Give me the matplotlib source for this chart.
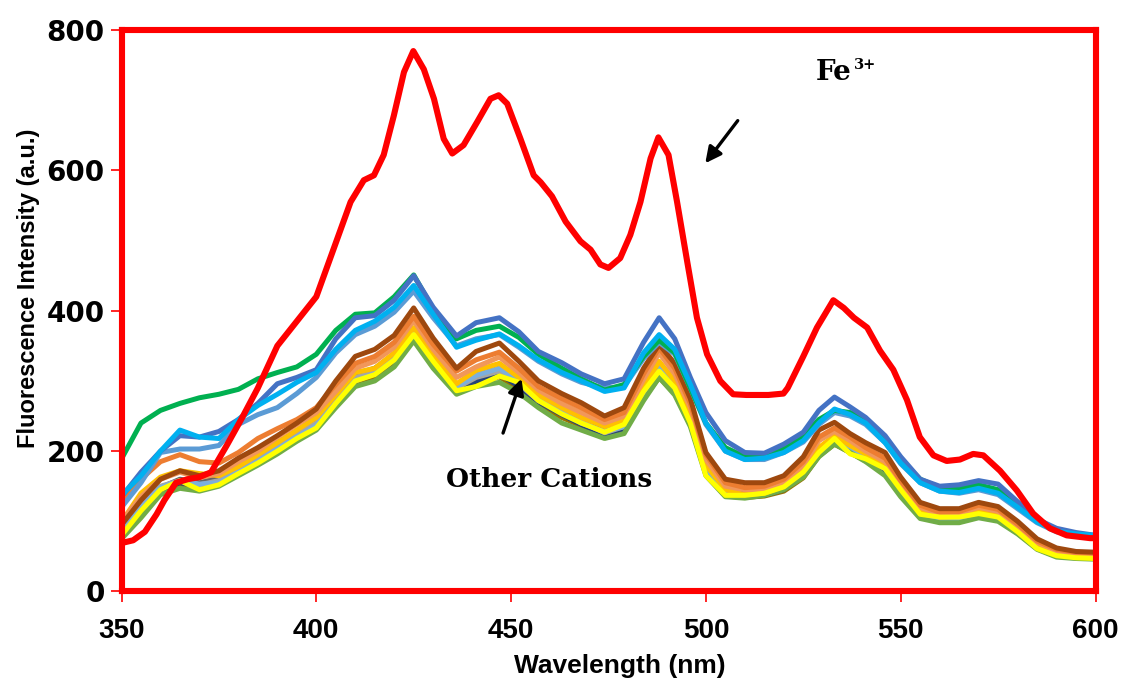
import matplotlib
matplotlib.use("Agg")
import matplotlib.pyplot as plt

# Emission wavelengths (nm) shared by the cation spectra
wavelength = [350, 355, 360, 365, 370, 375, 380, 385, 390, 395, 400, 405, 410, 415, 420,
              425, 430, 436, 441, 447, 452, 457, 463, 468, 474, 479, 484, 488, 492, 496,
              500, 505, 510, 515, 520, 525, 529, 533, 537, 541, 546, 550, 555, 560, 565,
              570, 575, 580, 585, 590, 595, 600]

# Fluorescence spectra of the probe with the other cations
cation_green = [189, 240, 258, 268, 276, 281, 288, 303, 312, 320, 338, 372, 395, 397, 420,
                451, 402, 360, 372, 378, 362, 338, 318, 303, 287, 295, 335, 358, 340, 290,
                240, 205, 192, 192, 205, 222, 245, 258, 255, 245, 215, 188, 160, 148, 147,
                152, 145, 125, 102, 88, 82, 78]
cation_blue = [135, 170, 200, 222, 220, 228, 245, 268, 296, 305, 316, 360, 390, 393, 415,
               450, 405, 364, 383, 390, 370, 342, 326, 310, 296, 303, 355, 390, 360, 305,
               255, 215, 198, 197, 210, 227, 258, 277, 263, 248, 222, 192, 160, 150, 152,
               158, 153, 128, 103, 90, 84, 80]
cation_cyan = [137, 165, 200, 230, 220, 218, 245, 265, 281, 298, 312, 345, 372, 385, 405,
               436, 395, 348, 358, 367, 350, 330, 312, 300, 285, 290, 340, 366, 345, 295,
               240, 200, 188, 190, 198, 215, 240, 260, 252, 240, 212, 183, 155, 143, 141,
               147, 140, 120, 99, 86, 82, 80]
cation_lightblue = [120, 155, 198, 203, 203, 208, 238, 252, 262, 282, 305, 340, 366, 378, 398,
                    428, 390, 350, 360, 366, 348, 328, 310, 298, 290, 292, 332, 355, 338, 290,
                    238, 200, 188, 188, 198, 213, 238, 255, 250, 238, 212, 182, 155, 143, 140,
                    145, 138, 118, 98, 85, 80, 78]
cation_brown = [95, 130, 160, 172, 165, 172, 190, 205, 222, 240, 260, 300, 335, 345, 365,
                404, 361, 318, 342, 354, 328, 300, 282, 269, 250, 262, 318, 352, 325, 275,
                198, 160, 155, 155, 165, 192, 230, 241, 225, 212, 198, 163, 127, 118, 118,
                127, 121, 100, 75, 62, 57, 56]
cation_orange = [128, 160, 185, 195, 185, 183, 198, 218, 232, 245, 262, 295, 325, 335, 355,
                 392, 352, 314, 330, 341, 318, 292, 275, 262, 245, 255, 310, 347, 318, 268,
                 195, 155, 148, 150, 160, 185, 220, 233, 220, 205, 190, 158, 123, 113, 114,
                 123, 117, 96, 72, 60, 56, 55]
cation_lightorange = [100, 135, 160, 170, 162, 168, 185, 200, 220, 238, 255, 285, 318, 328, 348,
                      386, 345, 305, 320, 334, 312, 287, 268, 255, 240, 250, 302, 340, 310, 262,
                      188, 150, 145, 146, 156, 180, 215, 228, 215, 200, 185, 155, 120, 110, 111,
                      120, 114, 94, 70, 58, 55, 54]
cation_gold = [99, 140, 163, 172, 168, 165, 178, 195, 212, 230, 248, 280, 312, 318, 340,
               376, 338, 296, 315, 325, 305, 280, 262, 248, 235, 243, 290, 328, 300, 252,
               180, 145, 138, 140, 150, 172, 205, 222, 208, 196, 182, 150, 116, 106, 107,
               115, 110, 90, 66, 55, 52, 51]
cation_darkgray = [85, 118, 148, 160, 155, 162, 180, 196, 212, 228, 245, 278, 310, 318, 338,
                   372, 335, 293, 308, 318, 300, 278, 260, 245, 228, 238, 285, 322, 296, 250,
                   178, 143, 140, 142, 150, 170, 202, 220, 206, 193, 178, 147, 113, 104, 104,
                   112, 107, 88, 65, 54, 51, 50]
cation_gray = [90, 125, 150, 158, 152, 158, 175, 190, 208, 225, 240, 272, 305, 312, 332,
               368, 330, 290, 305, 314, 296, 272, 256, 242, 226, 235, 282, 318, 292, 246,
               175, 140, 136, 138, 146, 167, 198, 215, 202, 190, 175, 144, 110, 101, 101,
               110, 105, 86, 63, 52, 50, 49]
cation_navy = [82, 115, 145, 155, 150, 157, 172, 188, 205, 222, 238, 270, 302, 310, 330,
               365, 327, 288, 300, 310, 292, 270, 252, 238, 222, 232, 280, 316, 290, 244,
               172, 138, 135, 137, 145, 165, 196, 213, 200, 188, 173, 142, 108, 100, 100,
               108, 103, 84, 62, 51, 49, 48]
cation_steel = [88, 120, 148, 158, 153, 155, 170, 185, 203, 220, 236, 268, 300, 310, 330,
                368, 330, 292, 308, 318, 300, 275, 256, 240, 228, 235, 283, 320, 292, 245,
                172, 140, 138, 142, 148, 168, 200, 218, 205, 195, 178, 145, 112, 103, 104,
                113, 108, 88, 64, 53, 51, 50]
cation_olive = [78, 110, 142, 150, 145, 152, 168, 183, 200, 218, 234, 266, 298, 305, 325,
                360, 322, 283, 296, 306, 288, 266, 248, 236, 220, 228, 275, 305, 282, 238,
                168, 136, 134, 136, 143, 162, 193, 210, 198, 186, 170, 140, 106, 99, 99,
                107, 102, 83, 61, 50, 48, 47]
cation_lightgreen = [75, 105, 138, 147, 143, 150, 165, 180, 196, 214, 230, 262, 292, 300, 320,
                     357, 318, 281, 292, 298, 283, 262, 240, 230, 218, 225, 272, 305, 280, 235,
                     165, 135, 133, 137, 145, 163, 192, 210, 198, 185, 165, 135, 104, 98, 98,
                     105, 100, 82, 60, 49, 47, 46]
cation_yellow = [80, 115, 145, 158, 145, 152, 168, 183, 200, 218, 233, 268, 300, 309, 330,
                 366, 328, 286, 292, 307, 298, 272, 253, 240, 227, 238, 285, 314, 290, 240,
                 165, 137, 137, 140, 149, 170, 198, 218, 196, 189, 175, 145, 110, 106, 106,
                 111, 106, 85, 61, 51, 48, 47]

# Spectrum of the probe with Fe3+
fe_wavelength = [350, 353, 356, 359, 361, 364, 367, 370, 373, 377, 381, 385, 390, 395, 400,
                 404.5, 408.8, 412.2, 414.8, 417.3, 419.9, 422.5, 424.9, 427.6, 430.2, 432.7,
                 434.9, 437.8, 441.3, 444.7, 446.8, 449, 452.4, 455.8, 457.6, 460.5, 464,
                 467.8, 470.4, 472.9, 475, 478, 480.6, 483.2, 485.8, 487.8, 490.4, 492.6,
                 495.2, 497.7, 500.3, 503.7, 507, 510.4, 516, 519.9, 521, 525, 528.5, 532.7,
                 535.4, 538, 541.4, 544.7, 548.1, 551.6, 554.9, 558.4, 561.8, 565.2, 568.6,
                 571.2, 575.5, 579.8, 584, 588.3, 592.6, 598.6, 600]
fe_intensity = [69, 73, 85, 110, 130, 155, 160, 163, 170, 208, 248, 290, 350, 385, 420,
                489, 555, 586, 593, 622, 678, 740, 770, 744, 702, 645,
                624, 636, 669, 702, 707, 695, 645, 593, 583, 563, 527,
                499, 487, 466, 461, 475, 508, 555, 617, 647, 622, 555,
                470, 390, 338, 300, 281, 280, 280, 282, 290, 335, 376, 415,
                404, 390, 376, 343, 316, 273, 220, 194, 186, 188, 196,
                194, 172, 144, 111, 90, 80, 76, 76]

cation_series = [
    (cation_olive, "#997300"),
    (cation_navy, "#264478"),
    (cation_darkgray, "#636363"),
    (cation_gray, "#A5A5A5"),
    (cation_steel, "#7CAFDD"),
    (cation_lightgreen, "#70AD47"),
    (cation_gold, "#FFC000"),
    (cation_lightorange, "#F1975A"),
    (cation_orange, "#ED7D31"),
    (cation_brown, "#9E480E"),
    (cation_yellow, "#FFFF00"),
    (cation_lightblue, "#5B9BD5"),
    (cation_green, "#00B050"),
    (cation_blue, "#4472C4"),
    (cation_cyan, "#00B0F0"),
]

x_ticks = [350, 400, 450, 500, 550, 600]
y_ticks = [0, 200, 400, 600, 800]

fig = plt.figure(figsize=(11.21, 6.79), dpi=100)
ax = fig.add_axes([0.10839, 0.12887, 0.86887, 0.82695])

for values, color in cation_series:
    ax.plot(wavelength, values, color=color, lw=3.6, solid_joinstyle="round",
            solid_capstyle="round")
ax.plot(fe_wavelength, fe_intensity, color="#FF0000", lw=4.4, solid_joinstyle="round",
        solid_capstyle="round")

ax.set_xlim(350, 600)
ax.set_ylim(0, 800)
ax.set_xticks(x_ticks)
ax.set_yticks(y_ticks)

for side in ("left", "right", "top", "bottom"):
    ax.spines[side].set_color("#FF0000")
    ax.spines[side].set_linewidth(4.4)

ax.tick_params(axis="both", direction="out", color="#FF0000", length=8, width=1.2)
ax.tick_params(axis="x", pad=11)
ax.tick_params(axis="y", pad=4)
for lbl in ax.get_xticklabels():
    lbl.set_fontfamily(["Liberation Sans", "DejaVu Sans"])
    lbl.set_fontweight("bold")
    lbl.set_fontsize(20)
for lbl in ax.get_yticklabels():
    lbl.set_fontfamily(["DejaVu Sans"])
    lbl.set_fontweight("bold")
    lbl.set_fontsize(20)

ax.set_xlabel("Wavelength (nm)", family=["Liberation Sans", "DejaVu Sans"],
              fontweight="bold", fontsize=19, va="center", ha="center")
ax.xaxis.set_label_coords(0.512, -0.133)
ax.set_ylabel("Fluorescence Intensity (a.u.)", family=["Liberation Sans", "DejaVu Sans"],
              fontweight="bold", fontsize=17, va="center", ha="center")
ax.yaxis.set_label_coords(-0.095, 0.54)

# Annotations
ax.text(528.2, 729, "Fe", family=["DejaVu Serif"], fontweight="bold",
        fontsize=20, ha="left", va="baseline", color="black")
ax.text(538.0, 745, "3+", family=["DejaVu Serif"], fontweight="bold",
        fontsize=10.5, ha="left", va="baseline", color="black")
ax.annotate("", xy=(499.4, 607), xytext=(508.6, 674),
            arrowprops=dict(arrowstyle="-|>", color="black", lw=2.4, mutation_scale=24))

ax.text(433.2, 149, "Other Cations", family=["DejaVu Serif"], fontweight="bold",
        fontsize=19, ha="left", va="baseline", color="black")
ax.annotate("", xy=(452.9, 307), xytext=(447.7, 222),
            arrowprops=dict(arrowstyle="-|>", color="black", lw=2.4, mutation_scale=24))

fig.savefig("out.png", dpi=100)
